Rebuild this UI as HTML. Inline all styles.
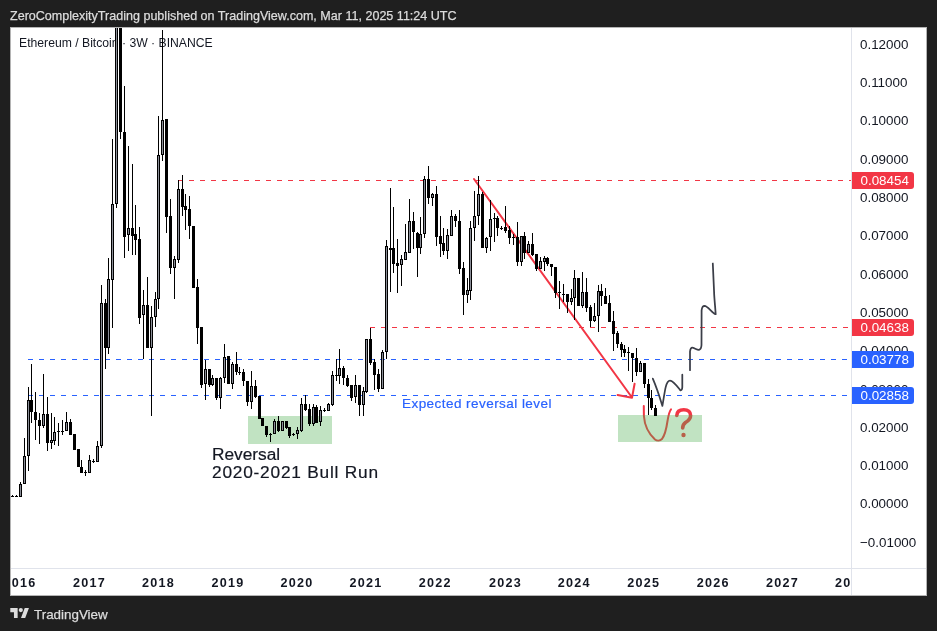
<!DOCTYPE html>
<html><head><meta charset="utf-8">
<style>
html,body{margin:0;padding:0;}
body{-webkit-font-smoothing:antialiased;width:937px;height:631px;background:#1f1f1f;position:relative;overflow:hidden;font-family:"Liberation Sans",sans-serif;}
.title{will-change:transform;-webkit-text-stroke:0.25px currentColor;position:absolute;left:10px;top:8px;font-size:12.55px;color:#dcdcdc;white-space:nowrap;line-height:16px;}
.panel{position:absolute;left:10px;top:27px;width:917px;height:569px;background:#fff;overflow:hidden;}
.legend{will-change:transform;position:absolute;left:8.5px;top:8px;font-size:12.2px;color:#131722;white-space:nowrap;line-height:16px;}
svg.ch{position:absolute;left:-10px;top:-27px;}
.pl{will-change:transform;position:absolute;left:850px;font-size:13.4px;line-height:16px;color:#131722;white-space:nowrap;}
.yclip{will-change:transform;position:absolute;left:0;top:541px;width:841px;height:27px;overflow:hidden;}
.yl{position:absolute;top:7px;width:60px;text-align:center;font-size:12.6px;font-weight:bold;letter-spacing:1.25px;color:#131722;line-height:16px;}
.tag{will-change:transform;position:absolute;left:842px;width:62px;height:17px;border-radius:0 3px 3px 0;color:#fff;font-size:13.4px;line-height:17px;box-sizing:border-box;padding-left:8.5px;}
.foot{will-change:transform;-webkit-text-stroke:0.25px currentColor;position:absolute;left:33.5px;top:607px;font-size:13.4px;color:#dcdcdc;line-height:16px;}
.ann{will-change:transform;-webkit-text-stroke:0.2px currentColor;position:absolute;color:#131722;white-space:nowrap;}
</style></head><body>
<div class="title">ZeroComplexityTrading published on TradingView.com, Mar 11, 2025 11:24 UTC</div>
<div class="panel">
 <div class="legend">Ethereum / Bitcoin · 3W · BINANCE</div>
 <div class="pl" style="top:9.8px">0.12000</div><div class="pl" style="top:48.1px">0.11000</div><div class="pl" style="top:86.4px">0.10000</div><div class="pl" style="top:124.7px">0.09000</div><div class="pl" style="top:163.0px">0.08000</div><div class="pl" style="top:201.3px">0.07000</div><div class="pl" style="top:239.6px">0.06000</div><div class="pl" style="top:277.9px">0.05000</div><div class="pl" style="top:316.2px">0.04000</div><div class="pl" style="top:354.5px">0.03000</div><div class="pl" style="top:392.8px">0.02000</div><div class="pl" style="top:431.1px">0.01000</div><div class="pl" style="top:469.4px">0.00000</div><div class="pl" style="top:507.7px">−0.01000</div>
 <div class="yclip"><div class="yl" style="left:-19.9px">2016</div><div class="yl" style="left:49.4px">2017</div><div class="yl" style="left:118.5px">2018</div><div class="yl" style="left:187.9px">2019</div><div class="yl" style="left:257.1px">2020</div><div class="yl" style="left:326.1px">2021</div><div class="yl" style="left:395.3px">2022</div><div class="yl" style="left:465.4px">2023</div><div class="yl" style="left:534.3px">2024</div><div class="yl" style="left:603.8px">2025</div><div class="yl" style="left:673.2px">2026</div><div class="yl" style="left:742.4px">2027</div><div class="yl" style="left:811.6px">2028</div></div>
 <div class="ann" style="left:201.8px;top:418px;font-size:17.3px;line-height:18.3px;">Reversal<br><span style="letter-spacing:0.78px">2020-2021 Bull Run</span></div>
 <div class="ann" style="left:392.4px;top:369px;font-size:13.5px;line-height:16px;letter-spacing:0.45px;color:#2962ff;">Expected reversal level</div>
 <svg class="ch" width="937" height="631" viewBox="0 0 937 631">
  <rect x="851" y="27" width="1" height="568" fill="#e0e3eb" shape-rendering="crispEdges"/>
  <rect x="10" y="568" width="917" height="1" fill="#e0e3eb" shape-rendering="crispEdges"/>
  <g stroke-width="1" fill="none" stroke-dasharray="5 6" shape-rendering="crispEdges">
   <line x1="178" y1="180.5" x2="851" y2="180.5" stroke="#f23645"/>
   <line x1="370" y1="327.5" x2="851" y2="327.5" stroke="#f23645"/>
   <line x1="28" y1="359.5" x2="851" y2="359.5" stroke="#2962ff"/>
   <line x1="28" y1="395.5" x2="851" y2="395.5" stroke="#2962ff"/>
  </g>

  <path d="M474 179 L632 397.5 M617.6 395.1 L632 397.8 L634.6 383.8" stroke="#f23645" stroke-width="2" fill="none" stroke-linecap="round" stroke-linejoin="round"/>
  <path d="M652.8 378.6 C656 386 660 398 662.4 405.9 C663.5 400 664.5 392 665.7 387.1 C667 382 668.5 380.7 670 380.7 C673 380.7 677 386 680.2 390.1 C682 391 682.3 388 682.3 386.7 L682.3 374.7" stroke="#3b3e48" stroke-width="1.75" fill="none" stroke-linecap="round" stroke-linejoin="round"/>
  <path d="M690 370.2 L690 351.5 C690.5 348 691.5 347.7 692.2 347.7 C694 347.7 697 350 699 349.8 C700.5 349.5 701.4 347 701.5 345 L701.6 310.3 C702 307 703 305.8 704.5 305.8 C708 306 712 313 715.7 314.2 C715 305 714.1 295 714.1 292.4 L712.8 263.5" stroke="#3b3e48" stroke-width="1.75" fill="none" stroke-linecap="round" stroke-linejoin="round"/>
  <path d="M643.8 406 L643.9 416 C644.5 425 649 434 655 439.5 C657 441 660 441 662 439 C665 435 666.5 428 667.5 421 C668.5 415 669.5 411 671 409.3" stroke="#f23645" stroke-width="2" fill="none" stroke-linecap="round"/>
  <path d="M676.8 415.5 C677 411.5 679.8 409.8 683.8 409.8 C688.3 409.8 690.6 412.3 690.6 415.5 C690.6 419 688 421 685.5 422.5 C683.5 424 682.7 425 682.7 428" stroke="#f23645" stroke-width="3.6" fill="none" stroke-linecap="round"/>
  <circle cx="683.5" cy="435" r="2.2" fill="#f23645"/>
  <rect x="248" y="416" width="84" height="28" fill="rgba(76,175,80,0.35)"/>
  <rect x="618" y="415" width="84" height="27" fill="rgba(76,175,80,0.35)"/>
   <g shape-rendering="crispEdges"><path d="M12 495h1v1h-1zM11 496h3v1h-3zM16 495h1v1h-1zM15 496h3v1h-3zM20 482h1v2h-1zM19 484h3v13h-3zM24 438h1v18h-1zM23 456h3v28h-3zM28 387h1v13h-1zM28 456h1v15h-1zM27 400h3v56h-3zM31 364h1v36h-1zM31 412h1v11h-1zM30 400h3v12h-3zM35 392h1v20h-1zM35 420h1v20h-1zM34 412h3v8h-3zM39 413h1v7h-1zM39 426h1v18h-1zM38 420h3v6h-3zM43 374h1v40h-1zM43 426h1v2h-1zM42 414h3v12h-3zM47 397h1v17h-1zM47 443h1v8h-1zM46 414h3v29h-3zM51 413h1v27h-1zM51 443h1v6h-1zM50 440h3v3h-3zM54 417h1v15h-1zM54 441h1v4h-1zM53 432h3v9h-3zM58 423h1v8h-1zM58 432h1v14h-1zM57 431h3v1h-3zM62 420h1v11h-1zM62 432h1v3h-1zM61 431h3v1h-3zM66 412h1v10h-1zM65 422h3v9h-3zM70 419h1v3h-1zM69 422h3v13h-3zM73 434h3v16h-3zM77 449h3v18h-3zM81 460h1v7h-1zM80 467h3v6h-3zM85 470h1v2h-1zM85 473h1v3h-1zM84 472h3v1h-3zM89 455h1v5h-1zM88 460h3v13h-3zM93 459h1v2h-1zM93 462h1v1h-1zM92 461h3v1h-3zM97 441h1v5h-1zM96 446h3v16h-3zM101 285h1v18h-1zM101 446h1v2h-1zM100 303h3v143h-3zM105 299h1v4h-1zM105 348h1v21h-1zM104 303h3v45h-3zM108 258h1v21h-1zM108 348h1v6h-1zM107 279h3v69h-3zM112 139h1v65h-1zM112 280h1v48h-1zM111 204h3v76h-3zM116 204h1v4h-1zM115 27h3v177h-3zM120 132h1v7h-1zM119 27h3v105h-3zM124 86h1v46h-1zM124 237h1v21h-1zM123 132h3v105h-3zM128 146h1v82h-1zM128 235h1v16h-1zM127 228h3v7h-3zM132 164h1v64h-1zM132 236h1v19h-1zM131 228h3v8h-3zM135 205h1v29h-1zM135 240h1v15h-1zM134 234h3v6h-3zM139 227h1v12h-1zM139 318h1v6h-1zM138 239h3v79h-3zM143 290h1v15h-1zM143 315h1v44h-1zM142 305h3v10h-3zM147 277h1v28h-1zM146 305h3v43h-3zM151 306h1v11h-1zM151 348h1v68h-1zM150 317h3v31h-3zM155 292h1v7h-1zM155 317h1v10h-1zM154 299h3v18h-3zM158 116h1v39h-1zM158 299h1v10h-1zM157 155h3v144h-3zM162 30h1v90h-1zM162 155h1v6h-1zM161 120h3v35h-3zM166 217h1v16h-1zM165 119h3v98h-3zM170 199h1v17h-1zM170 268h1v6h-1zM169 216h3v52h-3zM174 256h1v3h-1zM174 268h1v31h-1zM173 259h3v9h-3zM178 180h1v9h-1zM178 260h1v3h-1zM177 189h3v71h-3zM182 175h1v14h-1zM182 207h1v9h-1zM181 189h3v18h-3zM185 194h1v12h-1zM185 210h1v20h-1zM184 206h3v4h-3zM189 196h1v13h-1zM189 226h1v13h-1zM188 209h3v17h-3zM192 226h3v62h-3zM197 279h1v8h-1zM197 328h1v16h-1zM196 287h3v41h-3zM201 385h1v3h-1zM200 327h3v58h-3zM205 360h1v9h-1zM205 384h1v16h-1zM204 369h3v15h-3zM209 385h1v2h-1zM208 369h3v16h-3zM212 375h1v3h-1zM212 385h1v1h-1zM211 378h3v7h-3zM216 398h1v2h-1zM215 378h3v20h-3zM220 377h1v1h-1zM220 398h1v11h-1zM219 378h3v20h-3zM224 344h1v13h-1zM224 378h1v5h-1zM223 357h3v21h-3zM227 356h3v28h-3zM232 362h1v2h-1zM232 384h1v5h-1zM231 364h3v20h-3zM236 352h1v12h-1zM236 372h1v3h-1zM235 364h3v8h-3zM239 367h1v5h-1zM239 373h1v2h-1zM238 372h3v1h-3zM243 369h1v3h-1zM243 381h1v5h-1zM242 372h3v9h-3zM247 402h1v4h-1zM246 381h3v21h-3zM251 371h1v15h-1zM251 402h1v7h-1zM250 386h3v16h-3zM255 380h1v6h-1zM255 397h1v1h-1zM254 386h3v11h-3zM258 396h3v23h-3zM261 418h3v8h-3zM266 435h1v2h-1zM265 426h3v9h-3zM270 433h1v1h-1zM270 435h1v7h-1zM269 434h3v1h-3zM274 419h1v2h-1zM273 421h3v13h-3zM278 416h1v5h-1zM278 431h1v1h-1zM277 421h3v10h-3zM281 421h3v10h-3zM286 428h1v1h-1zM285 421h3v7h-3zM289 436h1v2h-1zM288 427h3v9h-3zM293 433h1v1h-1zM293 435h1v1h-1zM292 434h3v1h-3zM297 427h1v3h-1zM297 434h1v5h-1zM296 430h3v4h-3zM301 398h1v6h-1zM301 431h1v1h-1zM300 404h3v27h-3zM305 395h1v9h-1zM305 410h1v1h-1zM304 404h3v6h-3zM309 404h1v5h-1zM309 424h1v2h-1zM308 409h3v15h-3zM313 404h1v3h-1zM313 424h1v2h-1zM312 407h3v17h-3zM316 405h1v2h-1zM315 407h3v16h-3zM320 406h1v4h-1zM320 422h1v4h-1zM319 410h3v12h-3zM324 408h1v2h-1zM324 411h1v1h-1zM323 410h3v1h-3zM328 403h1v1h-1zM327 404h3v7h-3zM332 371h1v4h-1zM332 405h1v1h-1zM331 375h3v30h-3zM336 359h1v16h-1zM336 376h1v5h-1zM335 375h3v1h-3zM339 349h1v19h-1zM339 376h1v8h-1zM338 368h3v8h-3zM343 366h1v2h-1zM343 378h1v7h-1zM342 368h3v10h-3zM347 375h1v3h-1zM347 386h1v1h-1zM346 378h3v8h-3zM351 398h1v3h-1zM350 385h3v13h-3zM355 375h1v10h-1zM355 397h1v6h-1zM354 385h3v12h-3zM359 405h1v11h-1zM358 385h3v20h-3zM363 387h1v4h-1zM363 405h1v11h-1zM362 391h3v14h-3zM366 392h1v1h-1zM365 339h3v53h-3zM370 328h1v11h-1zM370 363h1v2h-1zM369 339h3v24h-3zM374 359h1v3h-1zM374 375h1v15h-1zM373 362h3v13h-3zM378 369h1v5h-1zM378 389h1v3h-1zM377 374h3v15h-3zM382 350h1v2h-1zM381 352h3v37h-3zM386 240h1v6h-1zM386 352h1v7h-1zM385 246h3v106h-3zM390 188h1v60h-1zM390 250h1v42h-1zM389 248h3v2h-3zM393 207h1v41h-1zM393 264h1v9h-1zM392 248h3v16h-3zM397 239h1v24h-1zM397 266h1v27h-1zM396 263h3v3h-3zM401 255h1v4h-1zM401 265h1v21h-1zM400 259h3v6h-3zM405 224h1v28h-1zM404 252h3v8h-3zM409 199h1v22h-1zM408 221h3v32h-3zM413 212h1v9h-1zM413 232h1v17h-1zM412 221h3v11h-3zM417 232h1v1h-1zM417 248h1v29h-1zM416 233h3v15h-3zM420 217h1v17h-1zM420 248h1v6h-1zM419 234h3v14h-3zM424 176h1v3h-1zM424 234h1v4h-1zM423 179h3v55h-3zM428 166h1v13h-1zM428 198h1v6h-1zM427 179h3v19h-3zM432 193h1v1h-1zM432 198h1v8h-1zM431 194h3v4h-3zM436 186h1v8h-1zM436 237h1v9h-1zM435 194h3v43h-3zM440 216h1v20h-1zM440 244h1v13h-1zM439 236h3v8h-3zM443 228h1v15h-1zM443 251h1v4h-1zM442 243h3v8h-3zM447 229h1v6h-1zM447 251h1v8h-1zM446 235h3v16h-3zM451 210h1v6h-1zM450 216h3v20h-3zM455 214h1v2h-1zM455 221h1v6h-1zM454 216h3v5h-3zM459 210h1v11h-1zM459 269h1v5h-1zM458 221h3v48h-3zM463 262h1v6h-1zM463 295h1v20h-1zM462 268h3v27h-3zM467 278h1v12h-1zM467 295h1v8h-1zM466 290h3v5h-3zM470 221h1v7h-1zM470 291h1v9h-1zM469 228h3v63h-3zM474 191h1v25h-1zM474 228h1v13h-1zM473 216h3v12h-3zM478 176h1v18h-1zM478 216h1v9h-1zM477 194h3v22h-3zM482 192h1v2h-1zM481 194h3v54h-3zM486 237h1v1h-1zM486 248h1v5h-1zM485 238h3v10h-3zM490 200h1v19h-1zM490 237h1v14h-1zM489 219h3v18h-3zM494 213h1v5h-1zM494 219h1v23h-1zM493 218h3v1h-3zM497 216h1v2h-1zM497 228h1v8h-1zM496 218h3v10h-3zM501 226h1v2h-1zM501 229h1v1h-1zM500 228h3v1h-3zM505 206h1v21h-1zM505 231h1v2h-1zM504 227h3v4h-3zM509 226h1v4h-1zM509 238h1v6h-1zM508 230h3v8h-3zM513 234h1v3h-1zM513 238h1v7h-1zM512 237h3v1h-3zM517 222h1v15h-1zM517 262h1v4h-1zM516 237h3v25h-3zM521 262h1v4h-1zM520 236h3v26h-3zM524 232h1v4h-1zM524 253h1v6h-1zM523 236h3v17h-3zM528 241h1v3h-1zM527 244h3v9h-3zM532 233h1v11h-1zM532 255h1v1h-1zM531 244h3v11h-3zM536 269h1v2h-1zM535 254h3v15h-3zM540 257h1v4h-1zM539 261h3v8h-3zM544 256h1v2h-1zM544 262h1v9h-1zM543 258h3v4h-3zM547 257h1v1h-1zM547 264h1v2h-1zM546 258h3v6h-3zM551 267h1v9h-1zM550 264h3v3h-3zM555 293h1v5h-1zM554 267h3v26h-3zM559 281h1v11h-1zM559 293h1v16h-1zM558 292h3v1h-3zM563 284h1v10h-1zM563 295h1v7h-1zM562 294h3v1h-3zM567 302h1v11h-1zM566 294h3v8h-3zM571 289h1v9h-1zM571 302h1v3h-1zM570 298h3v4h-3zM574 270h1v8h-1zM574 298h1v22h-1zM573 278h3v20h-3zM577 278h3v28h-3zM582 272h1v20h-1zM582 306h1v2h-1zM581 292h3v14h-3zM586 278h1v14h-1zM586 308h1v4h-1zM585 292h3v16h-3zM590 305h1v2h-1zM590 321h1v6h-1zM589 307h3v14h-3zM594 303h1v13h-1zM594 321h1v1h-1zM593 316h3v5h-3zM598 285h1v6h-1zM598 316h1v16h-1zM597 291h3v25h-3zM601 284h1v7h-1zM601 296h1v10h-1zM600 291h3v5h-3zM605 288h1v8h-1zM604 296h3v8h-3zM609 295h1v8h-1zM608 303h3v19h-3zM613 311h1v10h-1zM613 334h1v17h-1zM612 321h3v13h-3zM617 331h1v2h-1zM617 344h1v4h-1zM616 333h3v11h-3zM621 342h1v2h-1zM621 350h1v7h-1zM620 344h3v6h-3zM624 345h1v4h-1zM624 353h1v4h-1zM623 349h3v4h-3zM628 347h1v5h-1zM628 353h1v18h-1zM627 352h3v1h-3zM632 358h1v24h-1zM631 353h3v5h-3zM636 348h1v10h-1zM636 372h1v4h-1zM635 358h3v14h-3zM640 361h1v2h-1zM639 363h3v9h-3zM644 384h1v4h-1zM643 363h3v21h-3zM648 379h1v5h-1zM648 398h1v17h-1zM647 384h3v14h-3zM651 390h1v8h-1zM651 408h1v2h-1zM650 398h3v10h-3zM655 405h1v3h-1zM654 408h3v8h-3z" fill="#000"/><path d="M20 485h1v11h-1zM24 457h1v26h-1zM28 401h1v54h-1zM43 415h1v10h-1zM51 441h1v1h-1zM54 433h1v7h-1zM66 423h1v7h-1zM89 461h1v11h-1zM97 447h1v14h-1zM101 304h1v141h-1zM108 280h1v67h-1zM112 205h1v74h-1zM116 28h1v175h-1zM128 229h1v5h-1zM143 306h1v8h-1zM151 318h1v29h-1zM155 300h1v16h-1zM158 156h1v142h-1zM162 121h1v33h-1zM174 260h1v7h-1zM178 190h1v69h-1zM205 370h1v13h-1zM212 379h1v5h-1zM220 379h1v18h-1zM224 358h1v19h-1zM232 365h1v18h-1zM251 387h1v14h-1zM274 422h1v11h-1zM282 422h1v8h-1zM297 431h1v2h-1zM301 405h1v25h-1zM313 408h1v15h-1zM320 411h1v10h-1zM328 405h1v5h-1zM332 376h1v28h-1zM339 369h1v6h-1zM355 386h1v10h-1zM363 392h1v12h-1zM366 340h1v51h-1zM382 353h1v35h-1zM386 247h1v104h-1zM401 260h1v4h-1zM405 253h1v6h-1zM409 222h1v30h-1zM420 235h1v12h-1zM424 180h1v53h-1zM432 195h1v2h-1zM447 236h1v14h-1zM451 217h1v18h-1zM467 291h1v3h-1zM470 229h1v61h-1zM474 217h1v10h-1zM478 195h1v20h-1zM486 239h1v8h-1zM490 220h1v16h-1zM521 237h1v24h-1zM528 245h1v7h-1zM540 262h1v6h-1zM544 259h1v2h-1zM571 299h1v2h-1zM574 279h1v18h-1zM582 293h1v12h-1zM594 317h1v3h-1zM598 292h1v23h-1zM640 364h1v7h-1z" fill="#8b8e98"/></g>
 </svg>
 <div class="tag" style="top:145px;background:#f23645">0.08454</div>
 <div class="tag" style="top:292px;background:#f23645">0.04638</div>
 <div class="tag" style="top:324px;background:#2962ff">0.03778</div>
 <div class="tag" style="top:360px;background:#2962ff">0.02858</div>
</div>
<div style="position:absolute;left:10px;top:27px;width:917px;height:569px;box-sizing:border-box;border:1px solid #b4b4b4"></div>
<svg style="position:absolute;left:10px;top:607.5px" width="19.5" height="10.5" viewBox="0 0 36 20"><path d="M14 20H7V8H0V0h14v20zM28 20h-8L27.5 0h8L28 20z" fill="#dcdcdc"/><circle cx="20" cy="4" r="4" fill="#dcdcdc"/></svg>
<div class="foot">TradingView</div>
</body></html>
